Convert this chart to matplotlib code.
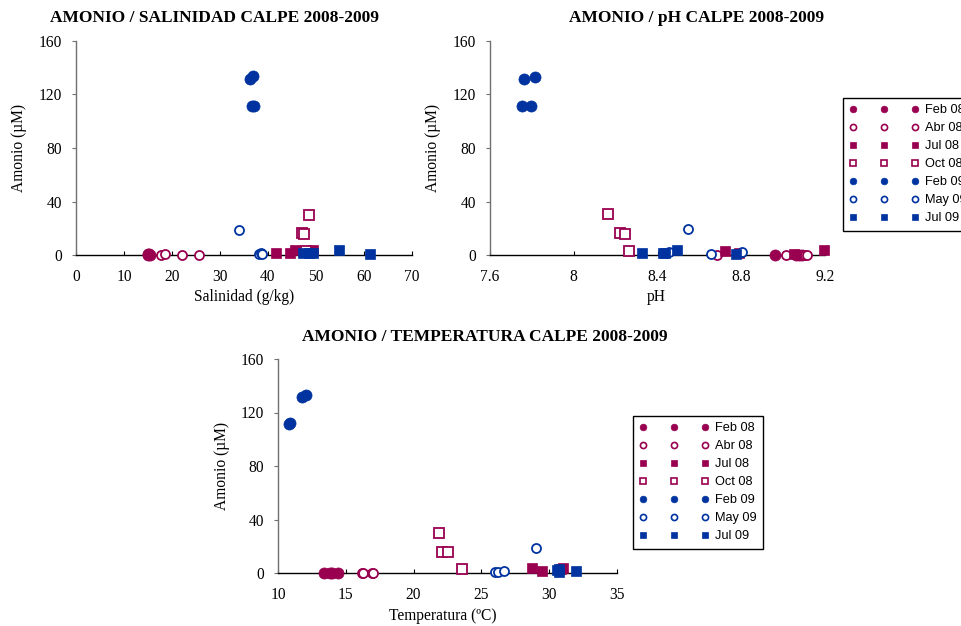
import matplotlib
matplotlib.use("Agg")
import matplotlib.pyplot as plt
from matplotlib.lines import Line2D

MAG = '#990050'
BLU = '#0033A0'

groups = ['Feb 08', 'Abr 08', 'Jul 08', 'Oct 08', 'Feb 09', 'May 09', 'Jul 09']

# ---- Salinity panel ----
sal_feb08_x = [14.9, 15.1, 15.3, 15.5]; sal_feb08_y = [0.5, 0.3, 0.4, 0.2]
sal_abr08_x = [17.7, 18.5, 22.1, 25.7]; sal_abr08_y = [0.3, 0.5, 0.3, 0.2]
sal_jul08_x = [41.6, 44.6, 45.6, 49.4]; sal_jul08_y = [1.5, 1.5, 3.7, 4.0]
sal_oct08_x = [47.0, 47.6, 48.5, 48.0]; sal_oct08_y = [16.2, 15.8, 30.2, 3.0]
sal_feb09_x = [36.3, 36.9, 36.7, 37.1]; sal_feb09_y = [131.6, 133.5, 111.4, 111.6]
sal_may09_x = [34.0, 38.2, 38.5, 38.8]; sal_may09_y = [19.0, 0.5, 1.5, 1.0]
sal_jul09_x = [47.3, 48.5, 49.4, 54.8, 61.3]; sal_jul09_y = [1.5, 1.5, 1.5, 3.5, 0.8]

# ---- pH panel ----
ph_feb08_x = [8.96, 9.06, 9.075, 9.09]; ph_feb08_y = [0.3, 0.3, 0.3, 0.3]
ph_abr08_x = [8.686, 9.014, 9.105, 9.115]; ph_abr08_y = [0.2, 0.3, 0.3, 0.3]
ph_jul08_x = [8.72, 8.79, 9.05, 9.195]; ph_jul08_y = [3.0, 1.5, 1.0, 3.7]
ph_oct08_x = [8.162, 8.22, 8.243, 8.262]; ph_oct08_y = [30.5, 16.3, 15.7, 3.0]
ph_feb09_x = [7.762, 7.814, 7.752, 7.795]; ph_feb09_y = [131.6, 133.0, 111.4, 111.4]
ph_may09_x = [8.548, 8.457, 8.657, 8.805]; ph_may09_y = [19.4, 2.0, 0.7, 2.0]
ph_jul09_x = [8.324, 8.424, 8.438, 8.495, 8.776]; ph_jul09_y = [1.5, 1.5, 1.5, 3.7, 1.0]

# ---- Temperature panel ----
t_feb08_x = [13.4, 13.8, 14.0, 14.4]; t_feb08_y = [0.3, 0.3, 0.3, 0.3]
t_abr08_x = [16.2, 16.3, 16.9, 17.0]; t_abr08_y = [0.3, 0.3, 0.3, 0.3]
t_jul08_x = [28.7, 29.5, 30.9, 31.0]; t_jul08_y = [3.5, 1.5, 3.0, 3.7]
t_oct08_x = [21.87, 22.12, 22.57, 23.6]; t_oct08_y = [30.1, 15.7, 15.5, 3.0]
t_feb09_x = [10.8, 11.8, 12.1, 10.85]; t_feb09_y = [111.4, 131.3, 133.0, 112.0]
t_may09_x = [26.0, 26.25, 26.67, 29.0]; t_may09_y = [0.5, 1.0, 1.7, 19.0]
t_jul09_x = [30.6, 30.75, 32.0, 30.7]; t_jul09_y = [2.2, 2.7, 1.7, 1.0]

sal_x_ticks = [0, 10, 20, 30, 40, 50, 60, 70]
ph_x_ticks = [7.6, 8.0, 8.4, 8.8, 9.2]
ph_x_labels = ['7.6', '8', '8.4', '8.8', '9.2']
t_x_ticks = [10, 15, 20, 25, 30, 35]
y_ticks = [0, 40, 80, 120, 160]

styles = {
    'Feb 08': dict(marker='o', color=MAG, filled=True),
    'Abr 08': dict(marker='o', color=MAG, filled=False),
    'Jul 08': dict(marker='s', color=MAG, filled=True),
    'Oct 08': dict(marker='s', color=MAG, filled=False),
    'Feb 09': dict(marker='o', color=BLU, filled=True),
    'May 09': dict(marker='o', color=BLU, filled=False),
    'Jul 09': dict(marker='s', color=BLU, filled=True),
}

SERIF = ['Liberation Serif', 'DejaVu Serif']
SANS = ['Liberation Sans', 'DejaVu Sans']

fig = plt.figure(figsize=(9.62, 6.26), dpi=100)
fig.patch.set_facecolor('white')


def draw(ax, data, xlim, xticks, xlabels=None):
    for g, (xs, ys) in zip(groups, data):
        st = styles[g]
        if st['filled']:
            ms = 8 if st['marker'] == 'o' else 7.5
            ax.plot(xs, ys, ls='none', marker=st['marker'], ms=ms,
                    mfc=st['color'], mec=st['color'], mew=0.5, clip_on=False, zorder=3)
        else:
            ax.plot(xs, ys, ls='none', marker=st['marker'], ms=6.5,
                    mfc='white', mec=st['color'], mew=1.3, clip_on=False, zorder=3)
    ax.set_xlim(*xlim)
    ax.set_ylim(0, 160)
    ax.set_xticks(xticks)
    if xlabels is not None:
        ax.set_xticklabels(xlabels)
    ax.set_yticks(y_ticks)
    for s in ['top', 'right']:
        ax.spines[s].set_visible(False)
    ax.spines['left'].set_color('#707070')
    ax.spines['left'].set_linewidth(1.0)
    ax.spines['bottom'].set_color('black')
    ax.spines['bottom'].set_linewidth(1.0)
    ax.tick_params(axis='x', direction='in', length=3, width=0.8, pad=10, colors='black')
    ax.tick_params(axis='y', direction='out', length=3, width=0.8, pad=7, color='#707070')
    for lab in ax.get_xticklabels() + ax.get_yticklabels():
        lab.set_fontfamily(SERIF)
        lab.set_fontsize(11.2)
        lab.set_color('black')


def legend_handles():
    hs = []
    for g in groups:
        st = styles[g]
        if st['filled']:
            hs.append(Line2D([], [], ls='none', marker=st['marker'], ms=4.8,
                             mfc=st['color'], mec=st['color'], mew=0.5))
        else:
            hs.append(Line2D([], [], ls='none', marker=st['marker'], ms=4.4,
                             mfc='white', mec=st['color'], mew=1.2))
    return hs


W, H = 962.0, 626.0

def rect(x0, x1, y0, y1):
    return [x0 / W, 1 - y0 / H, (x1 - x0) / W, (y0 - y1) / H]

ax1 = fig.add_axes(rect(76, 412, 255, 41))
draw(ax1, [(sal_feb08_x, sal_feb08_y), (sal_abr08_x, sal_abr08_y), (sal_jul08_x, sal_jul08_y),
           (sal_oct08_x, sal_oct08_y), (sal_feb09_x, sal_feb09_y), (sal_may09_x, sal_may09_y),
           (sal_jul09_x, sal_jul09_y)], (0, 70), sal_x_ticks)

ax2 = fig.add_axes(rect(490, 825, 255, 41))
draw(ax2, [(ph_feb08_x, ph_feb08_y), (ph_abr08_x, ph_abr08_y), (ph_jul08_x, ph_jul08_y),
           (ph_oct08_x, ph_oct08_y), (ph_feb09_x, ph_feb09_y), (ph_may09_x, ph_may09_y),
           (ph_jul09_x, ph_jul09_y)], (7.6, 9.2), ph_x_ticks, ph_x_labels)

ax3 = fig.add_axes(rect(278, 617, 573, 359))
draw(ax3, [(t_feb08_x, t_feb08_y), (t_abr08_x, t_abr08_y), (t_jul08_x, t_jul08_y),
           (t_oct08_x, t_oct08_y), (t_feb09_x, t_feb09_y), (t_may09_x, t_may09_y),
           (t_jul09_x, t_jul09_y)], (10, 35), t_x_ticks)

def ftext(x, y, s, **kw):
    fig.text(x / W, 1 - y / H, s, family=SERIF, **kw)

ftext(215, 18, 'AMONIO / SALINIDAD CALPE 2008-2009', fontsize=12.5, weight='bold', ha='center', va='center')
ftext(697, 18, 'AMONIO / pH CALPE 2008-2009', fontsize=12.5, weight='bold', ha='center', va='center')
ftext(485, 337, 'AMONIO / TEMPERATURA CALPE 2008-2009', fontsize=12.5, weight='bold', ha='center', va='center')

ftext(244, 297, 'Salinidad (g/kg)', fontsize=11.2, ha='center', va='center')
ftext(656, 297, 'pH', fontsize=11.2, ha='center', va='center')
ftext(443, 616, 'Temperatura (ºC)', fontsize=11.2, ha='center', va='center')

ftext(19, 148, 'Amonio (µM)', fontsize=11.2, ha='center', va='center', rotation=90)
ftext(433, 148, 'Amonio (µM)', fontsize=11.2, ha='center', va='center', rotation=90)
ftext(222, 466, 'Amonio (µM)', fontsize=11.2, ha='center', va='center', rotation=90)

leg_kw = dict(numpoints=3, handlelength=5.4, handletextpad=0.55, borderpad=0.5,
              labelspacing=0.47, frameon=True, fancybox=False, shadow=False,
              loc='upper left', borderaxespad=0.0,
              prop={'family': SANS, 'size': 9.2})

l1 = fig.legend(legend_handles(), groups, bbox_to_anchor=(843 / W, 1 - 98 / H), **leg_kw)
l2 = fig.legend(legend_handles(), groups, bbox_to_anchor=(633 / W, 1 - 416 / H), **leg_kw)
for l in (l1, l2):
    fr = l.get_frame()
    fr.set_edgecolor('black')
    fr.set_linewidth(1.0)
    fr.set_alpha(1)

fig.savefig('out.png', dpi=100, facecolor='white')
